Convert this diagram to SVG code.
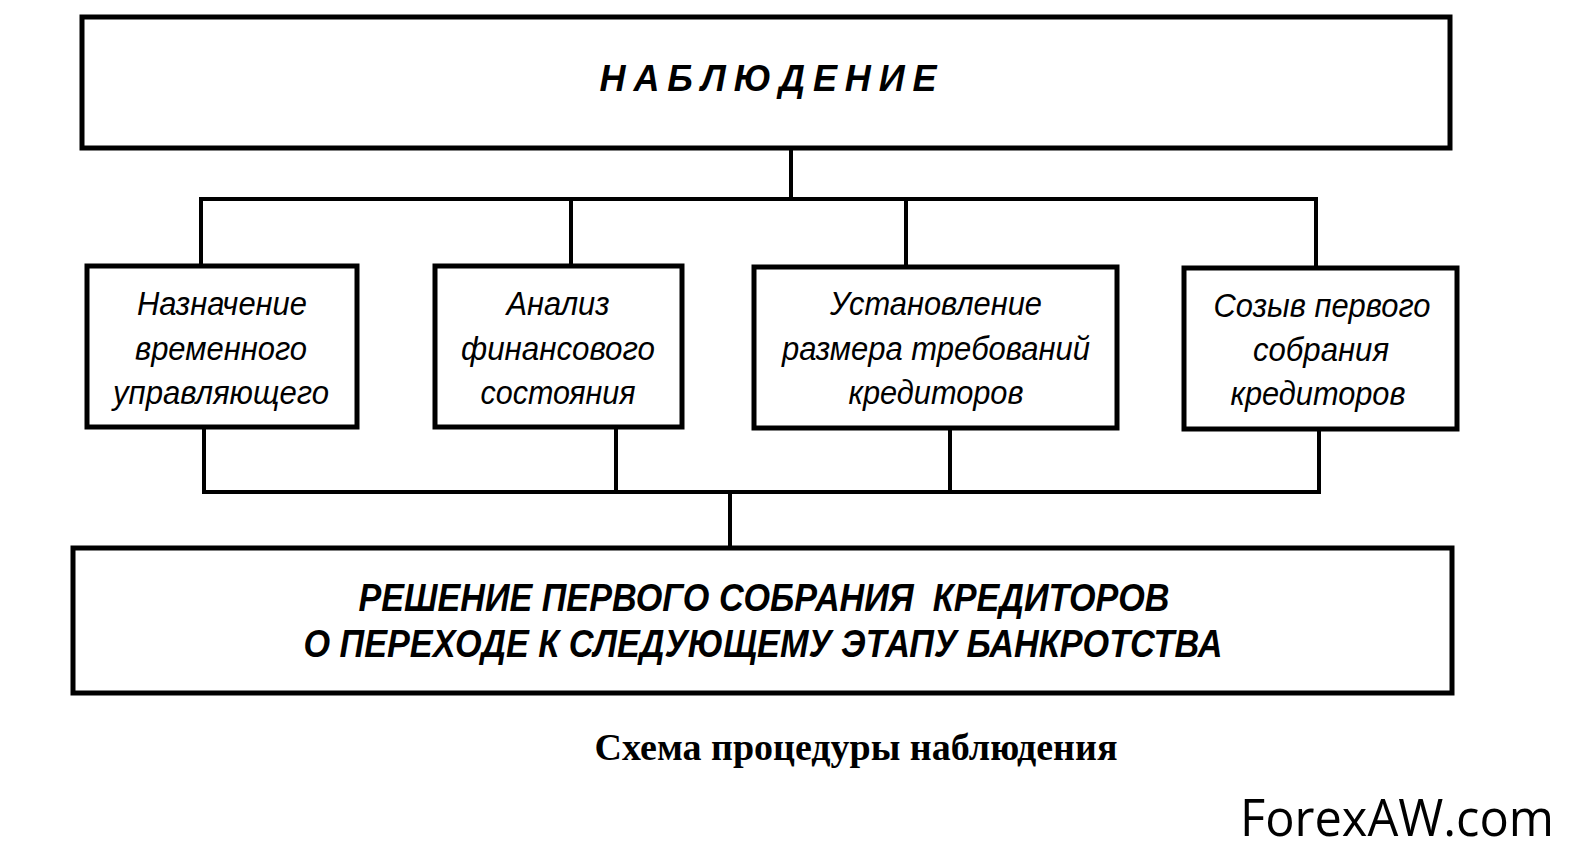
<svg xmlns="http://www.w3.org/2000/svg" width="1575" height="862" viewBox="0 0 1575 862">
<style>
.box{fill:#fff;stroke:#000;stroke-width:5}
.con{fill:none;stroke:#000;stroke-width:4;stroke-linecap:square}
.node{font-family:"Liberation Sans",Arial,sans-serif;font-style:italic;font-size:34px;fill:#000;text-anchor:middle}
.big{font-family:"Liberation Sans",Arial,sans-serif;font-style:italic;font-weight:bold;fill:#000;text-anchor:middle;white-space:pre}
.cap{font-family:"Liberation Serif","Times New Roman",serif;font-weight:bold;font-size:37px;fill:#000;text-anchor:middle}
.wm{font-family:"Open Sans","Noto Sans",sans-serif;font-size:52px;fill:#000}
</style>
<rect width="1575" height="862" fill="#fff"/>
<g id="connectors">
<path class="con" d="M791 148V199M201 199H1316M201 199V266M571 199V266M906 199V267M1316 199V268"/>
<path class="con" d="M204 427V492M616 427V492M950 428V492M1319 429V492M204 492H1319M730 492V548"/>
</g>
<g id="top">
<rect class="box" x="82" y="17" width="1368" height="131"/>
<text class="big" x="768" y="91" font-size="36" textLength="337" lengthAdjust="spacing">НАБЛЮДЕНИЕ</text>
</g>
<g id="n1">
<rect class="box" x="87" y="266" width="270" height="161"/>
<text class="node" x="222" y="315" textLength="170" lengthAdjust="spacingAndGlyphs">Назначение</text>
<text class="node" x="221" y="360" textLength="172" lengthAdjust="spacingAndGlyphs">временного</text>
<text class="node" x="221" y="404" textLength="216" lengthAdjust="spacingAndGlyphs">управляющего</text>
</g>
<g id="n2">
<rect class="box" x="435" y="266" width="247" height="161"/>
<text class="node" x="558" y="315" textLength="103" lengthAdjust="spacingAndGlyphs">Анализ</text>
<text class="node" x="558" y="360" textLength="194" lengthAdjust="spacingAndGlyphs">финансового</text>
<text class="node" x="558" y="404" textLength="155" lengthAdjust="spacingAndGlyphs">состояния</text>
</g>
<g id="n3">
<rect class="box" x="754" y="267" width="363" height="161"/>
<text class="node" x="936" y="315" textLength="212" lengthAdjust="spacingAndGlyphs">Установление</text>
<text class="node" x="936" y="360" textLength="308" lengthAdjust="spacingAndGlyphs">размера требований</text>
<text class="node" x="936" y="404" textLength="175" lengthAdjust="spacingAndGlyphs">кредиторов</text>
</g>
<g id="n4">
<rect class="box" x="1184" y="268" width="273" height="161"/>
<text class="node" x="1322" y="317" textLength="217" lengthAdjust="spacingAndGlyphs">Созыв первого</text>
<text class="node" x="1321" y="361" textLength="136" lengthAdjust="spacingAndGlyphs">собрания</text>
<text class="node" x="1318" y="405" textLength="175" lengthAdjust="spacingAndGlyphs">кредиторов</text>
</g>
<g id="bottom">
<rect class="box" x="73" y="548" width="1379" height="145"/>
<text class="big" x="764" y="611" font-size="38" textLength="811" lengthAdjust="spacingAndGlyphs">РЕШЕНИЕ ПЕРВОГО СОБРАНИЯ  КРЕДИТОРОВ</text>
<text class="big" x="763" y="657" font-size="38" textLength="919" lengthAdjust="spacingAndGlyphs">О ПЕРЕХОДЕ К СЛЕДУЮЩЕМУ ЭТАПУ БАНКРОТСТВА</text>
</g>
<text class="cap" x="856" y="760" textLength="523" lengthAdjust="spacingAndGlyphs">Схема процедуры наблюдения</text>
<text class="wm" x="1240" y="836" textLength="314" lengthAdjust="spacingAndGlyphs">ForexAW.com</text>
</svg>
